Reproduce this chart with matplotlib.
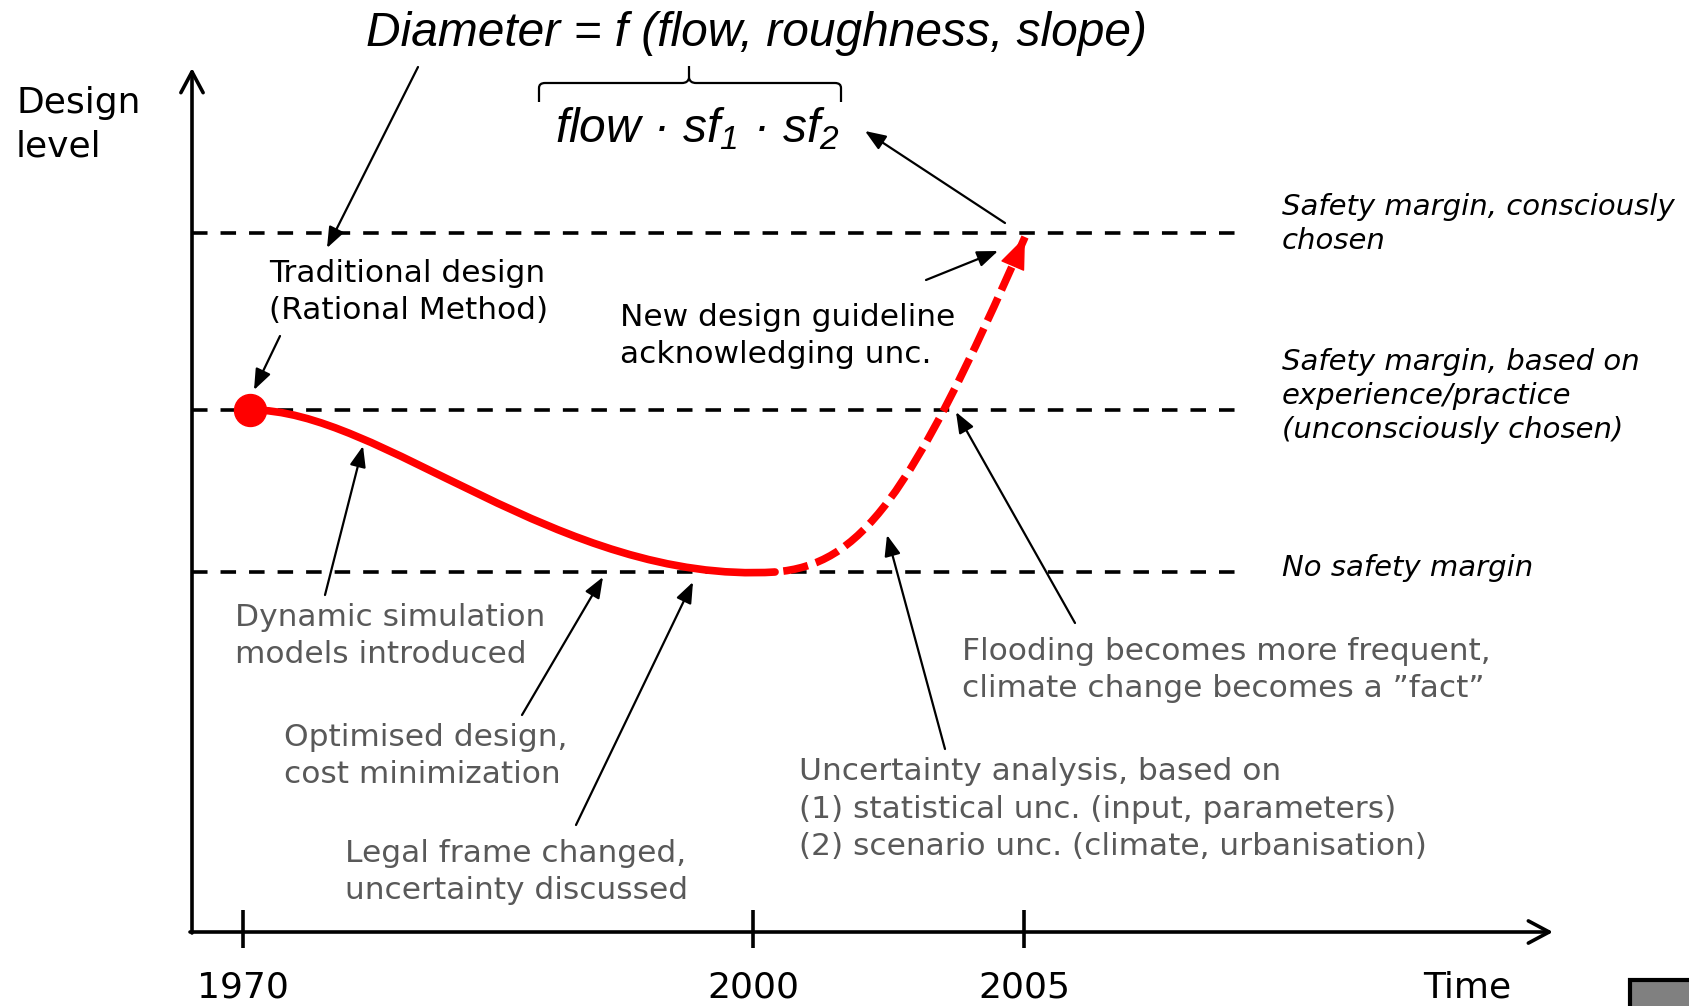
import matplotlib
matplotlib.use("Agg")
import matplotlib.pyplot as plt
from matplotlib.path import Path
from matplotlib.patches import PathPatch, Rectangle

plt.rcParams['font.family'] = ['DejaVu Sans']
plt.rcParams['mathtext.fontset'] = 'custom'
plt.rcParams['mathtext.it'] = 'Liberation Sans:italic'
plt.rcParams['mathtext.rm'] = 'Liberation Sans:italic'

# ---------------- data (conceptual diagram, canvas units) ----------------
tick_labels = ['1970', '2000', '2005']
tick_x = [243, 753, 1024]
level_y = [233, 410, 572]          # conscious margin, experience margin, no margin
level_labels = ['Safety margin, consciously\nchosen',
                'Safety margin, based on\nexperience/practice\n(unconsciously chosen)',
                'No safety margin']
level_label_y = [224, 396, 568]
# design-level trajectory (Bezier control points)
solid_x = [250, 380, 560, 775]
solid_y = [410, 408, 585, 572]
dashed_x = [775, 860, 910, 1025]
dashed_y = [572, 565, 500, 237]

GRAY = '#595959'

fig = plt.figure(figsize=(16.89, 10.06), dpi=100)
ax = fig.add_axes([0, 0, 1, 1])
ax.set_xlim(0, 1689)
ax.set_ylim(1006, 0)
ax.axis('off')

# axes arrows
axis_arrow = dict(arrowstyle='->,head_length=0.75,head_width=0.4', lw=2.6,
                  color='k', shrinkA=0, shrinkB=0, mutation_scale=20)
ax.annotate('', xy=(192, 68), xytext=(192, 933), arrowprops=axis_arrow)
ax.annotate('', xy=(1553, 932), xytext=(190, 932), arrowprops=axis_arrow)

# ticks
for x, lab in zip(tick_x, tick_labels):
    ax.plot([x, x], [910, 948], color='k', lw=2.6, solid_capstyle='butt')
    ax.text(x, 988, lab, fontsize=26, ha='center', va='center')
ax.text(1467, 987, 'Time', fontsize=26, ha='center', va='center')
ax.text(16, 125, 'Design\nlevel', fontsize=26, ha='left', va='center', linespacing=1.35)

# level lines
for y in level_y:
    ax.plot([192, 1247], [y, y], color='k', lw=2.6, linestyle=(0, (4.3, 3.6)),
            dash_capstyle='butt')
for y, lab in zip(level_label_y, level_labels):
    ax.text(1282, y, lab, fontsize=21, style='italic', ha='left', va='center',
            linespacing=1.27)

# red trajectory
codes = [Path.MOVETO, Path.CURVE4, Path.CURVE4, Path.CURVE4]
ax.add_patch(PathPatch(Path(list(zip(solid_x, solid_y)), codes), fill=False,
                       ec='#ff0000', lw=5.5, capstyle='round', zorder=4))
ax.add_patch(PathPatch(Path(list(zip(dashed_x, dashed_y)), codes), fill=False,
                       ec='#ff0000', lw=5.5, linestyle=(3.3, (3.3, 1.1)),
                       capstyle='butt', zorder=4))
ax.annotate('', xy=(dashed_x[-1], dashed_y[-1]),
            xytext=(dashed_x[-1] - 12, dashed_y[-1] + 28),
            arrowprops=dict(arrowstyle='-|>,head_length=1.05,head_width=0.42',
                            mutation_scale=20, color='#ff0000', lw=1,
                            shrinkA=0, shrinkB=0), zorder=5)
ax.plot(solid_x[0], solid_y[0], 'o', ms=23, color='#ff0000', zorder=6)

# formula
ax.text(757, 33, 'Diameter = f (flow, roughness, slope)', family='Liberation Sans',
        style='italic', fontsize=34.5, ha='center', va='center')
ax.text(697, 129, r'flow · s$f_{\mathit{1}}$ · s$f_{\mathit{2}}$', family='Liberation Sans',
        style='italic', fontsize=34.5, ha='center', va='center')
brace_l = Path([(539, 102), (539, 88), (539, 83), (545, 83), (682, 83),
                (688, 83), (689, 78), (689, 66)],
               [Path.MOVETO, Path.LINETO, Path.CURVE3, Path.CURVE3, Path.LINETO,
                Path.CURVE3, Path.CURVE3, Path.LINETO])
brace_r = Path([(841, 102), (841, 88), (841, 83), (835, 83), (696, 83),
                (690, 83), (689, 78)],
               [Path.MOVETO, Path.LINETO, Path.CURVE3, Path.CURVE3, Path.LINETO,
                Path.CURVE3, Path.CURVE3])
for p in (brace_l, brace_r):
    ax.add_patch(PathPatch(p, fill=False, ec='k', lw=1.6))

# annotations
notes = [
    ('Traditional design\n(Rational Method)', 269, 292, 'k', (280, 336), (254, 390)),
    ('New design guideline\nacknowledging unc.', 620, 336, 'k', (926, 280), (998, 251)),
    ('Dynamic simulation\nmodels introduced', 235, 636, GRAY, (325, 595), (363, 446)),
    ('Optimised design,\ncost minimization', 284, 756, GRAY, (522, 715), (603, 577)),
    ('Legal frame changed,\nuncertainty discussed', 345, 872, GRAY, (576, 825), (693, 582)),
    ('Flooding becomes more frequent,\nclimate change becomes a \u201dfact\u201d', 962, 670, GRAY,
     (1075, 623), (956, 412)),
    ('Uncertainty analysis, based on\n(1) statistical unc. (input, parameters)\n'
     '(2) scenario unc. (climate, urbanisation)', 799, 809, GRAY, (945, 749), (887, 535)),
]
arrow_kw = dict(arrowstyle='-|>,head_length=0.9,head_width=0.35', mutation_scale=14,
                lw=1.6, color='k', shrinkA=0, shrinkB=0)
for txt, tx, ty, col, tail, head in notes:
    ax.text(tx, ty, txt, fontsize=22.5, color=col, ha='left', va='center',
            linespacing=1.38)
    ax.annotate('', xy=head, xytext=tail, arrowprops=arrow_kw)

# arrows from formula
ax.annotate('', xy=(327, 248), xytext=(418, 67), arrowprops=arrow_kw)
ax.annotate('', xy=(865, 131), xytext=(1005, 223), arrowprops=arrow_kw)

# gray slide marker bottom right
ax.add_patch(Rectangle((1630, 980), 90, 60, fc='#808080', ec='k', lw=3))

fig.savefig('out.png', dpi=100)
